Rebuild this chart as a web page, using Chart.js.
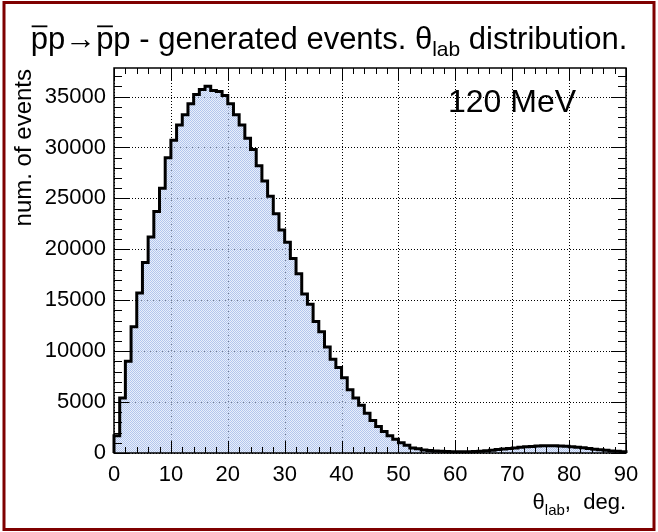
<!DOCTYPE html>
<html lang="en">
<head>
<meta charset="UTF-8">
<title>pbar p -> pbar p, generated events, theta_lab distribution</title>
<script src="https://cdn.jsdelivr.net/npm/chart.js"></script>
<style>
    html, body { margin: 0; padding: 0; background: #fff; }
    #wrap { width: 658px; height: 532px; position: relative; }
</style>
</head>
<body>
<div id="wrap"><canvas id="thetaChart" width="658" height="532"></canvas></div>
<script>
    // histogram definition: 90 bins of 1 deg from 0 to 90
    const thetaMin = 0;
    const binWidth = 1;

    // counts per bin
    const events = [
        1700, 5400, 9000, 12400, 15700, 18700, 21200, 23700, 26000, 29000,
        30700, 32200, 33200, 34300, 35200, 35700, 36000, 35600, 35500, 35100,
        34300, 33200, 32200, 30900, 29800, 28200, 26700, 25200, 23500, 21900,
        20700, 19100, 17600, 15600, 14600, 12900, 11900, 10400, 9200, 8400,
        7400, 6200, 5400, 4700, 3900, 3200, 2600, 2100, 1700, 1350,
        1000, 750, 500, 420, 300, 250, 200, 180, 150, 130,
        120, 120, 130, 150, 180, 220, 280, 340, 400, 450,
        500, 560, 610, 650, 690, 710, 720, 710, 690, 660,
        620, 570, 510, 450, 380, 320, 260, 200, 160, 120
    ];

    const xTicks = [0, 10, 20, 30, 40, 50, 60, 70, 80, 90];
    const yTicks = [0, 5000, 10000, 15000, 20000, 25000, 30000, 35000];
    const xMinorStep = 2;
    const yMinorStep = 1000;
    const yMax = 37800;

    const FONT = "'Liberation Sans', Arial, Helvetica, sans-serif";

    // bin edges -> stepped outline points (starts and ends on zero like ROOT)
    const binEdges = events.map((_, i) => thetaMin + i * binWidth);
    const xHi = thetaMin + events.length * binWidth;
    const outline = [{ x: thetaMin, y: 0 }];
    binEdges.forEach((e, i) => outline.push({ x: e, y: events[i] }));
    outline.push({ x: xHi, y: events[events.length - 1] });
    outline.push({ x: xHi, y: 0 });

    // dotted fill pattern like ROOT's fill style
    function makePattern() {
        const c = document.createElement('canvas');
        c.width = 2; c.height = 2;
        const g = c.getContext('2d');
        g.fillStyle = 'rgba(214,225,247,0.55)';
        g.fillRect(0, 0, 2, 2);
        g.fillStyle = 'rgba(160,183,232,0.75)';
        g.fillRect(0, 0, 1, 1);
        g.fillRect(1, 1, 1, 1);
        return g.createPattern(c, 'repeat');
    }

    // draw text with subscript / overline pieces, returns width
    function runs(ctx, parts, x, y, draw) {
        let cx = x;
        parts.forEach(p => {
            ctx.font = p.size + 'px ' + FONT;
            const w = ctx.measureText(p.t).width;
            if (draw) {
                ctx.fillText(p.t, cx, y + (p.dy || 0));
                if (p.bar) {
                    ctx.fillRect(cx + 1, y - p.size * 0.76, w - 1.5, 1.8);
                }
            }
            cx += w;
        });
        return cx - x;
    }

    const decorPlugin = {
        id: 'decor',
        beforeDraw(chart) {
            const ctx = chart.ctx;
            ctx.save();
            ctx.fillStyle = '#fff';
            ctx.fillRect(0, 0, chart.width, chart.height);
            ctx.restore();
        },
        beforeDatasetsDraw(chart) {
            // dotted grid at major ticks
            const { ctx, chartArea: a, scales } = chart;
            ctx.save();
            ctx.strokeStyle = '#000';
            ctx.lineWidth = 1;
            ctx.setLineDash([1, 2]);
            xTicks.forEach(v => {
                const px = Math.round(scales.x.getPixelForValue(v)) + 0.5;
                ctx.beginPath(); ctx.moveTo(px, a.top); ctx.lineTo(px, a.bottom); ctx.stroke();
            });
            yTicks.forEach(v => {
                const py = Math.round(scales.y.getPixelForValue(v)) + 0.5;
                ctx.beginPath(); ctx.moveTo(a.left, py); ctx.lineTo(a.right, py); ctx.stroke();
            });
            ctx.restore();
        },
        afterDatasetsDraw(chart) {
            const { ctx, chartArea: a, scales } = chart;
            ctx.save();
            ctx.strokeStyle = '#000';
            ctx.lineWidth = 1.5;
            ctx.strokeRect(a.left, a.top, a.right - a.left, a.bottom - a.top);

            ctx.lineWidth = 1;
            ctx.beginPath();
            // x ticks, bottom and top, pointing inside
            for (let v = xTicks[0]; v <= xTicks[xTicks.length - 1] + 1e-9; v += xMinorStep) {
                const major = xTicks.includes(v);
                const len = major ? 12 : 6;
                const px = Math.round(scales.x.getPixelForValue(v)) + 0.5;
                ctx.moveTo(px, a.bottom); ctx.lineTo(px, a.bottom - len);
                ctx.moveTo(px, a.top); ctx.lineTo(px, a.top + len);
            }
            // y ticks, left and right
            for (let v = 0; v <= yMax; v += yMinorStep) {
                const major = yTicks.includes(v);
                const len = major ? 15 : 8;
                const py = Math.round(scales.y.getPixelForValue(v)) + 0.5;
                ctx.moveTo(a.left, py); ctx.lineTo(a.left + len, py);
                ctx.moveTo(a.right, py); ctx.lineTo(a.right - len, py);
            }
            ctx.stroke();
            ctx.restore();
        },
        afterDraw(chart) {
            const { ctx, chartArea: a } = chart;
            ctx.save();
            ctx.fillStyle = '#000';
            ctx.textBaseline = 'alphabetic';
            ctx.textAlign = 'left';

            // title
            const ts = 31;
            const title = [
                { t: 'p', size: ts, bar: true },
                { t: 'p\u2192', size: ts },
                { t: 'p', size: ts, bar: true },
                { t: 'p - generated events. \u03b8', size: ts },
                { t: 'lab', size: 21, dy: 7 },
                { t: ' distribution.', size: ts }
            ];
            const tw = runs(ctx, title, 0, 0, false);
            runs(ctx, title, chart.width / 2 - tw / 2, 49, true);

            // y axis title, top-aligned to the frame
            ctx.save();
            ctx.translate(31, a.top + 1);
            ctx.rotate(-Math.PI / 2);
            ctx.textAlign = 'right';
            ctx.font = '24px ' + FONT;
            ctx.fillText('num. of events', 0, 0);
            ctx.restore();

            // x axis title, right-aligned to the frame
            const xt = [
                { t: '\u03b8', size: 22 },
                { t: 'lab', size: 15, dy: 6 },
                { t: ',  deg.', size: 22 }
            ];
            const xw = runs(ctx, xt, 0, 0, false);
            runs(ctx, xt, a.right - xw, 509, true);

            // energy label
            ctx.font = '32px ' + FONT;
            ctx.fillText('120 MeV', 448, 112);

            // outer dark red frame
            ctx.strokeStyle = '#7f0000';
            ctx.lineWidth = 3;
            ctx.strokeRect(4, 2.5, chart.width - 8, chart.height - 5);
            ctx.restore();
        }
    };

    const ctx = document.getElementById('thetaChart').getContext('2d');
    new Chart(ctx, {
        type: 'line',
        data: {
            datasets: [{
                data: outline,
                stepped: 'before',
                borderColor: '#000',
                borderWidth: 3,
                borderJoinStyle: 'miter',
                backgroundColor: makePattern(),
                fill: 'origin',
                pointRadius: 0,
                tension: 0,
                clip: 3
            }]
        },
        options: {
            responsive: false,
            animation: false,
            devicePixelRatio: 1,
            events: [],
            layout: { padding: { left: 0, top: 68, right: 32, bottom: 0 } },
            plugins: { legend: { display: false }, tooltip: { enabled: false }, title: { display: false } },
            scales: {
                x: {
                    type: 'linear',
                    min: thetaMin,
                    max: xHi,
                    afterBuildTicks: s => { s.ticks = xTicks.map(v => ({ value: v })); },
                    afterFit: s => { s.height = 79; },
                    grid: { display: false, drawTicks: false },
                    border: { display: false },
                    ticks: { color: '#000', padding: 9, maxRotation: 0, autoSkip: false,
                             callback: v => String(v),
                             font: { family: FONT, size: 22 } }
                },
                y: {
                    type: 'linear',
                    min: 0,
                    max: yMax,
                    afterBuildTicks: s => { s.ticks = yTicks.map(v => ({ value: v })); },
                    afterFit: s => { s.width = 114; },
                    grid: { display: false, drawTicks: false },
                    border: { display: false },
                    ticks: { color: '#000', padding: 8, autoSkip: false,
                             callback: v => String(v),
                             font: { family: FONT, size: 22 } }
                }
            }
        },
        plugins: [decorPlugin]
    });
</script>
</body>
</html>
